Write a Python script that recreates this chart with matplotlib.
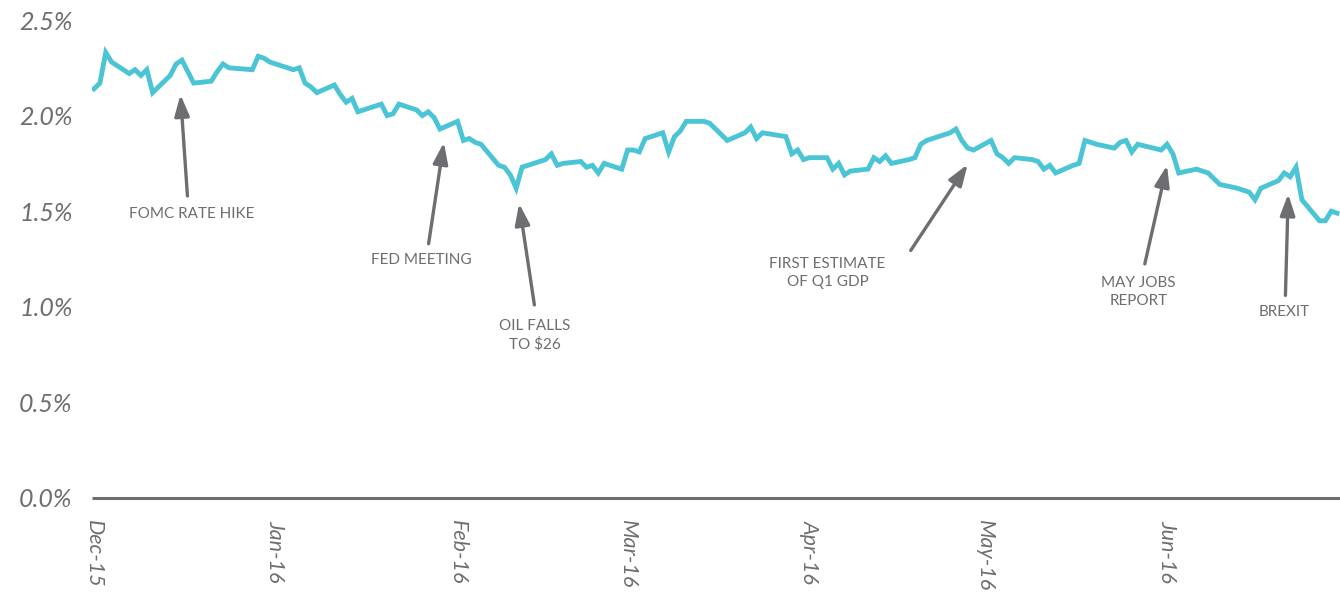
#!/usr/bin/env python3

"""
plot.py - 10-year yield, Dec 2015 to Jun 2016, with event annotations
"""

import pandas as pd
import matplotlib
matplotlib.use("Agg")
import matplotlib.pyplot as plt

# daily yield (%)
dec = ["2015-12-01", "2015-12-02", "2015-12-03", "2015-12-04", "2015-12-07", "2015-12-08",
       "2015-12-09", "2015-12-10", "2015-12-11", "2015-12-14", "2015-12-15", "2015-12-16",
       "2015-12-17", "2015-12-18", "2015-12-21", "2015-12-22", "2015-12-23", "2015-12-24",
       "2015-12-28", "2015-12-29", "2015-12-30", "2015-12-31"]
decVals = [2.14, 2.17, 2.33, 2.28, 2.22, 2.24, 2.21, 2.24, 2.12, 2.21, 2.27, 2.29,
           2.23, 2.17, 2.18, 2.23, 2.27, 2.25, 2.24, 2.31, 2.30, 2.28]

jan = ["2016-01-04", "2016-01-05", "2016-01-06", "2016-01-07", "2016-01-08", "2016-01-11",
       "2016-01-12", "2016-01-13", "2016-01-14", "2016-01-15", "2016-01-19", "2016-01-20",
       "2016-01-21", "2016-01-22", "2016-01-25", "2016-01-26", "2016-01-27", "2016-01-28",
       "2016-01-29"]
janVals = [2.24, 2.25, 2.17, 2.15, 2.12, 2.16, 2.11, 2.07, 2.09, 2.02, 2.06, 2.00,
           2.01, 2.06, 2.03, 2.00, 2.02, 1.99, 1.93]

feb = ["2016-02-01", "2016-02-02", "2016-02-03", "2016-02-04", "2016-02-05", "2016-02-08",
       "2016-02-09", "2016-02-10", "2016-02-11", "2016-02-12", "2016-02-16", "2016-02-17",
       "2016-02-18", "2016-02-19", "2016-02-22", "2016-02-23", "2016-02-24", "2016-02-25",
       "2016-02-26", "2016-02-29"]
febVals = [1.97, 1.87, 1.88, 1.86, 1.85, 1.74, 1.73, 1.69, 1.62, 1.73, 1.77, 1.80,
           1.74, 1.75, 1.76, 1.73, 1.74, 1.70, 1.75, 1.72]

mar = ["2016-03-01", "2016-03-02", "2016-03-03", "2016-03-04", "2016-03-07", "2016-03-08",
       "2016-03-09", "2016-03-10", "2016-03-11", "2016-03-14", "2016-03-15", "2016-03-16",
       "2016-03-17", "2016-03-18", "2016-03-21", "2016-03-22", "2016-03-23", "2016-03-24",
       "2016-03-28", "2016-03-29", "2016-03-30", "2016-03-31"]
marVals = [1.82, 1.82, 1.81, 1.88, 1.91, 1.81, 1.89, 1.92, 1.97, 1.97, 1.96, 1.93,
           1.90, 1.87, 1.91, 1.94, 1.88, 1.91, 1.89, 1.80, 1.82, 1.77]

apr = ["2016-04-01", "2016-04-04", "2016-04-05", "2016-04-06", "2016-04-07", "2016-04-08",
       "2016-04-11", "2016-04-12", "2016-04-13", "2016-04-14", "2016-04-15", "2016-04-18",
       "2016-04-19", "2016-04-20", "2016-04-21", "2016-04-22", "2016-04-25", "2016-04-26",
       "2016-04-27", "2016-04-28", "2016-04-29"]
aprVals = [1.78, 1.78, 1.72, 1.75, 1.69, 1.71, 1.72, 1.78, 1.76, 1.79, 1.75, 1.77,
           1.78, 1.85, 1.87, 1.88, 1.91, 1.93, 1.87, 1.83, 1.82]

may = ["2016-05-02", "2016-05-03", "2016-05-04", "2016-05-05", "2016-05-06", "2016-05-09",
       "2016-05-10", "2016-05-11", "2016-05-12", "2016-05-13", "2016-05-16", "2016-05-17",
       "2016-05-18", "2016-05-19", "2016-05-20", "2016-05-23", "2016-05-24", "2016-05-25",
       "2016-05-26", "2016-05-27", "2016-05-31"]
mayVals = [1.87, 1.80, 1.78, 1.75, 1.78, 1.77, 1.76, 1.72, 1.74, 1.70, 1.74, 1.75,
           1.87, 1.86, 1.85, 1.83, 1.86, 1.87, 1.81, 1.85, 1.82]

jun = ["2016-06-01", "2016-06-02", "2016-06-03", "2016-06-06", "2016-06-07", "2016-06-08",
       "2016-06-09", "2016-06-10", "2016-06-13", "2016-06-14", "2016-06-15", "2016-06-16",
       "2016-06-17", "2016-06-20", "2016-06-21", "2016-06-22", "2016-06-23", "2016-06-24",
       "2016-06-27", "2016-06-28", "2016-06-29", "2016-06-30"]
junVals = [1.85, 1.80, 1.70, 1.72, 1.71, 1.70, 1.67, 1.64, 1.62, 1.61, 1.60, 1.56,
           1.62, 1.66, 1.70, 1.68, 1.73, 1.56, 1.45, 1.45, 1.50, 1.49]

monthTicks = ["2015-12-01", "2016-01-01", "2016-02-01", "2016-03-01",
              "2016-04-01", "2016-05-01", "2016-06-01"]
monthLabels = ["Dec-15", "Jan-16", "Feb-16", "Mar-16", "Apr-16", "May-16", "Jun-16"]

yTicks = [0.0, 0.5, 1.0, 1.5, 2.0, 2.5]

# events: label, date the arrow points at, value of the arrow tip
eventLabels = ["FOMC RATE HIKE", "FED MEETING", "OIL FALLS\nTO $26",
               "FIRST ESTIMATE\nOF Q1 GDP", "MAY JOBS\nREPORT", "BREXIT"]
eventDates = ["2015-12-15 18:00", "2016-01-29 16:00", "2016-02-11 12:00",
              "2016-04-28", "2016-06-01", "2016-06-21 16:00"]
eventTips = [2.11, 1.86, 1.54, 1.745, 1.74, 1.59]

GRAY = "#6d6e71"
CYAN = "#4bc4d5"


def main():
    dates = pd.to_datetime(dec + jan + feb + mar + apr + may + jun)
    vals = decVals + janVals + febVals + marVals + aprVals + mayVals + junVals

    plt.rcParams["font.family"] = ["Lato", "DejaVu Sans"]

    fig = plt.figure(figsize=(13.4, 5.92), dpi=100)
    ax = fig.add_axes([0.0687, 0.1588, 0.9313, 0.8074])
    ax.plot(dates, vals, color=CYAN, lw=3.5, solid_joinstyle="miter")

    ax.set_ylim(0, 2.5)
    ax.set_xlim(pd.Timestamp("2015-11-30 16:00"), pd.Timestamp("2016-06-30 12:00"))

    for s in ["top", "right", "left"]:
        ax.spines[s].set_visible(False)
    ax.spines["bottom"].set_color(GRAY)
    ax.spines["bottom"].set_linewidth(2.2)
    ax.spines["bottom"].set_capstyle("butt")

    ax.set_yticks(yTicks)
    ax.set_yticklabels(["%.1f%%" % v for v in yTicks])
    ax.set_xticks(pd.to_datetime(monthTicks))
    ax.set_xticklabels(monthLabels, rotation=270, ha="center", va="top")
    ax.tick_params(axis="y", length=0, pad=14, labelsize=18, labelcolor=GRAY)
    ax.tick_params(axis="x", length=0, pad=16, labelsize=15.5, labelcolor=GRAY)
    for lab in ax.get_xticklabels() + ax.get_yticklabels():
        lab.set_fontstyle("italic")

    # arrow tail offsets and text offsets (points, from the tip)
    tails = [(5, -73), (-11, -73), (11, -73), (-41, -62), (-16, -71), (-2, -73)]
    texts = [(8, -86), (-16, -84.5), (11, -95), (-101, -78), (-20.5, -91.5), (-3, -85)]
    for lab, d, tip, tl, tx in zip(eventLabels, eventDates, eventTips, tails, texts):
        xy = (pd.Timestamp(d), tip)
        ax.annotate("", xy=xy, xytext=tl, textcoords="offset points",
                    arrowprops=dict(arrowstyle="-|>,head_length=0.8,head_width=0.28",
                                    color=GRAY, lw=2.4, mutation_scale=16,
                                    shrinkA=0, shrinkB=0))
        ax.annotate(lab, xy=xy, xytext=tx, textcoords="offset points",
                    ha="center", va="center", fontsize=11, color=GRAY,
                    linespacing=1.35)

    fig.savefig("out.png", dpi=100)


if __name__ == "__main__":
    main()
